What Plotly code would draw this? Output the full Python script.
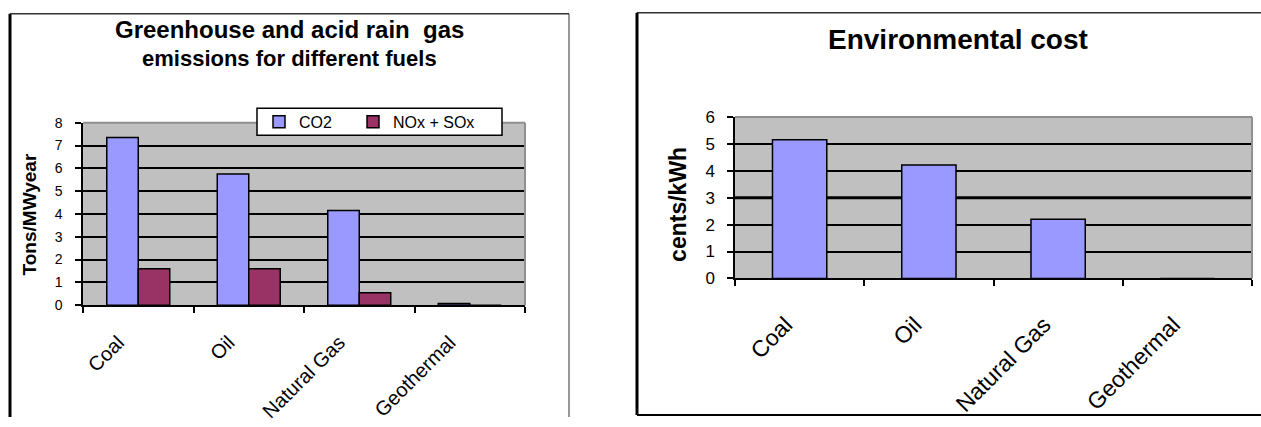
import plotly.graph_objects as go

# ---- data ----
fuels = ["Coal", "Oil", "Natural Gas", "Geothermal"]
co2 = [7.35, 5.75, 4.15, 0.08]
nox_sox = [1.6, 1.6, 0.55, 0.0]
env_cost = [5.15, 4.22, 2.2, 0.0]
left_yticks = [0, 1, 2, 3, 4, 5, 6, 7, 8]
right_yticks = [0, 1, 2, 3, 4, 5, 6]
highlight_level = 3

W, H = 1261, 427
FONT = "Liberation Sans, Arial, sans-serif"
GRID = "#000000"
BG = "#C0C0C0"


def px(x):
    return x / W


def py(y):
    return 1 - y / H


fig = go.Figure()
fig.add_trace(go.Bar(x=fuels, y=co2, name="CO2", legend="legend",
                     marker=dict(color="#9999FF", line=dict(color="black", width=1.5)),
                     xaxis="x", yaxis="y"))
fig.add_trace(go.Bar(x=fuels, y=nox_sox, name="NOx + SOx", legend="legend2",
                     marker=dict(color="#993366", line=dict(color="black", width=1.5)),
                     xaxis="x", yaxis="y"))
fig.add_trace(go.Bar(x=fuels, y=env_cost, name="Environmental cost", showlegend=False,
                     marker=dict(color="#9999FF", line=dict(color="black", width=1.5)),
                     xaxis="x2", yaxis="y2", width=0.42))

common_x = dict(type="category", tickson="boundaries", ticks="outside", ticklen=6, tickwidth=1.5, tickcolor="black",
                showline=True, linecolor="black", linewidth=1.5, showgrid=False, tickangle=-45,
                fixedrange=True)
common_y = dict(ticks="outside", ticklen=6, tickwidth=1.5, tickcolor="black", showline=True, linecolor="black",
                linewidth=1.5, showgrid=True, gridcolor=GRID, gridwidth=1.5, zeroline=False, fixedrange=True)

legend_common = dict(orientation="h", xanchor="left", yanchor="middle", bgcolor="rgba(0,0,0,0)",
                     borderwidth=0, font=dict(size=16, family=FONT), itemwidth=30)

fig.update_layout(
    width=W, height=H, margin=dict(l=0, r=0, t=0, b=0),
    paper_bgcolor="white", plot_bgcolor=BG,
    font=dict(family=FONT, color="black"),
    barmode="group", bargap=0.43, bargroupgap=0,
    showlegend=True,
    legend=dict(x=px(259), y=py(118), **legend_common),
    legend2=dict(x=px(353), y=py(118), **legend_common),
    xaxis=dict(domain=[px(83), px(525)], anchor="y", tickfont=dict(size=20), ticklabelstandoff=16,
               ticklabelshift=-20, **common_x),
    yaxis=dict(domain=[py(310), py(119)], anchor="x", range=[0, 8], tickvals=left_yticks,
               tickfont=dict(size=14), ticklabelstandoff=10, **common_y),
    xaxis2=dict(domain=[px(735), px(1252)], anchor="y2", tickfont=dict(size=23), ticklabelstandoff=22,
                ticklabelshift=-14, **common_x),
    yaxis2=dict(domain=[py(282), py(113)], anchor="x2", range=[0, 6], tickvals=right_yticks,
                tickfont=dict(size=17), ticklabelstandoff=9, **common_y),
)

shapes = []
# outer chart frames
shapes.append(dict(type="line", xref="paper", yref="paper", x0=px(10), x1=px(10), y0=0, y1=py(5),
                   line=dict(color="black", width=3)))
shapes.append(dict(type="line", xref="paper", yref="paper", x0=px(10), x1=px(569), y0=py(5), y1=py(5),
                   line=dict(color="#333333", width=1.5)))
shapes.append(dict(type="line", xref="paper", yref="paper", x0=px(569), x1=px(569), y0=0, y1=py(5),
                   line=dict(color="#333333", width=1)))
shapes.append(dict(type="line", xref="paper", yref="paper", x0=px(637), x1=px(1261), y0=py(4), y1=py(4),
                   line=dict(color="#333333", width=1.5)))
shapes.append(dict(type="line", xref="paper", yref="paper", x0=px(637), x1=px(1261), y0=py(425), y1=py(425),
                   line=dict(color="black", width=2)))
shapes.append(dict(type="line", xref="paper", yref="paper", x0=px(637), x1=px(637), y0=py(425), y1=py(4),
                   line=dict(color="black", width=3)))
# grey top/right plot borders
for xa, ya in (("x", "y"), ("x2", "y2")):
    shapes.append(dict(type="line", xref=f"{xa} domain", yref=f"{ya} domain", x0=0, x1=1, y0=1, y1=1,
                       line=dict(color="#909090", width=2), layer="above"))
    shapes.append(dict(type="line", xref=f"{xa} domain", yref=f"{ya} domain", x0=1, x1=1, y0=0, y1=1,
                       line=dict(color="#909090", width=2), layer="above"))
# thick line at level 3 in right chart
shapes.append(dict(type="line", xref="x2 domain", yref="y2", x0=0, x1=1, y0=highlight_level, y1=highlight_level,
                   line=dict(color="black", width=3), layer="below"))
# legend frame
shapes.append(dict(type="rect", xref="paper", yref="paper", x0=px(257), x1=px(502), y0=py(132), y1=py(104),
                   fillcolor="white", line=dict(color="black", width=1.5), layer="above"))
fig.update_layout(shapes=shapes)

annotations = [
    dict(text="<b>Greenhouse and acid rain  gas</b>", x=px(289), y=py(21), xref="paper", yref="paper",
         showarrow=False, font=dict(size=24, family=FONT), xanchor="center", yanchor="middle"),
    dict(text="<b>emissions for different fuels</b>", x=px(289), y=py(52), xref="paper", yref="paper",
         showarrow=False, font=dict(size=22, family=FONT), xanchor="center", yanchor="middle"),
    dict(text="<b>Tons/MWyear</b>", x=px(29), y=py(215), xref="paper", yref="paper", textangle=-90,
         showarrow=False, font=dict(size=19, family=FONT), xanchor="center", yanchor="middle"),
    dict(text="<b>Environmental cost</b>", x=px(958), y=py(32), xref="paper", yref="paper",
         showarrow=False, font=dict(size=28, family=FONT), xanchor="center", yanchor="middle"),
    dict(text="<b>cents/kWh</b>", x=px(678), y=py(205), xref="paper", yref="paper", textangle=-90,
         showarrow=False, font=dict(size=23, family=FONT), xanchor="center", yanchor="middle"),
]
fig.update_layout(annotations=annotations)

fig.write_html("out.html", config={"displayModeBar": False},
               post_script="document.body.style.margin='0';document.body.style.overflow='hidden';")
